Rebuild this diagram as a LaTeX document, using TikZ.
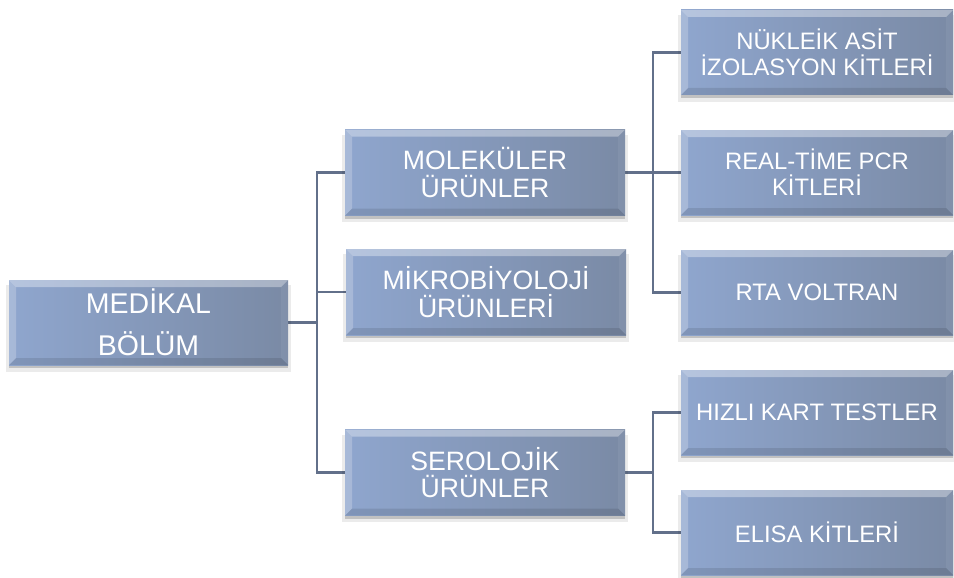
\documentclass[tikz,border=0pt]{standalone}
\usepackage{fontspec}
\setmainfont{Liberation Sans}
\usetikzlibrary{shadows,backgrounds}
\definecolor{boxL}{RGB}{143,166,206}
\definecolor{boxR}{RGB}{122,138,165}
\definecolor{conncol}{RGB}{98,112,138}
\tikzset{
  bevelbox/.style={
    shape=rectangle, inner sep=0pt, outer sep=0pt, align=center, text=white,
    left color=boxL, right color=boxR,
    general shadow={fill=black, opacity=0.08, shadow yshift=-6pt, shadow scale=1.02},
    general shadow={fill=black, opacity=0.18, shadow yshift=-3pt},
    path picture={
      \coordinate (ppnw) at (path picture bounding box.north west);
      \coordinate (ppne) at (path picture bounding box.north east);
      \coordinate (ppsw) at (path picture bounding box.south west);
      \coordinate (ppse) at (path picture bounding box.south east);
      \fill[white, opacity=0.35] (ppnw) -- (ppne) -- ([shift={(-7,7)}]ppne) -- ([shift={(7,7)}]ppnw) -- cycle;
      \fill[white, opacity=0.22] (ppnw) -- ([shift={(7,7)}]ppnw) -- ([shift={(7,-7)}]ppsw) -- (ppsw) -- cycle;
      \fill[white, opacity=0.06] (ppne) -- ([shift={(-7,7)}]ppne) -- ([shift={(-7,-7)}]ppse) -- (ppse) -- cycle;
      \fill[black, opacity=0.10] (ppsw) -- ([shift={(7,-7)}]ppsw) -- ([shift={(-7,-7)}]ppse) -- (ppse) -- cycle;
    }
  },
  rootbox/.style={bevelbox, minimum width=279pt, minimum height=85pt,
    font=\fontsize{28.5}{42}\selectfont},
  midbox/.style={bevelbox, minimum width=280pt, minimum height=86pt,
    font=\fontsize{26.6}{27.4}\selectfont},
  leafbox/.style={bevelbox, minimum width=272pt, minimum height=85pt,
    font=\fontsize{23.8}{26}\selectfont},
  conn/.style={draw=conncol, line width=2.4pt}
}
\begin{document}
\begin{tikzpicture}[x=1pt, y=-1pt]
\useasboundingbox (0,0) rectangle (954,578);

% boxes
\node[rootbox] (med) at (148.5,322.5) {MEDİKAL\\BÖLÜM};
\node[midbox] (mol) at (485,172.5) {MOLEKÜLER\\ÜRÜNLER};
\node[midbox] (mik) at (486,292) {MİKROBİYOLOJİ\\ÜRÜNLERİ};
\node[midbox] (ser) at (485,472.5) {SEROLOJİK\\ÜRÜNLER};
\node[leafbox] (nuk) at (817,52.5) {NÜKLEİK ASİT\\İZOLASYON KİTLERİ};
\node[leafbox] (pcr) at (817,172.5) {REAL-TİME PCR\\KİTLERİ};
\node[leafbox] (rta) at (817,292.5) {RTA VOLTRAN};
\node[leafbox] (hiz) at (817,412.5) {HIZLI KART TESTLER};
\node[leafbox] (eli) at (817,532.5) {ELISA KİTLERİ};

% junction points
\coordinate (j1) at (317,322.5);
\coordinate (j2) at (653,172.5);
\coordinate (j3) at (653,472.5);

% connectors (under the boxes)
\begin{pgfonlayer}{background}
\draw[conn] (med.east) -- (j1);
\draw[conn] (j1) |- (mol.west);
\draw[conn] (j1) |- (mik.west);
\draw[conn] (j1) |- (ser.west);
\draw[conn] (mol.east) -- (j2);
\draw[conn] (j2) |- (nuk.west);
\draw[conn] (j2) |- (pcr.west);
\draw[conn] (j2) |- (rta.west);
\draw[conn] (ser.east) -- (j3);
\draw[conn] (j3) |- (hiz.west);
\draw[conn] (j3) |- (eli.west);
\end{pgfonlayer}
\end{tikzpicture}
\end{document}
